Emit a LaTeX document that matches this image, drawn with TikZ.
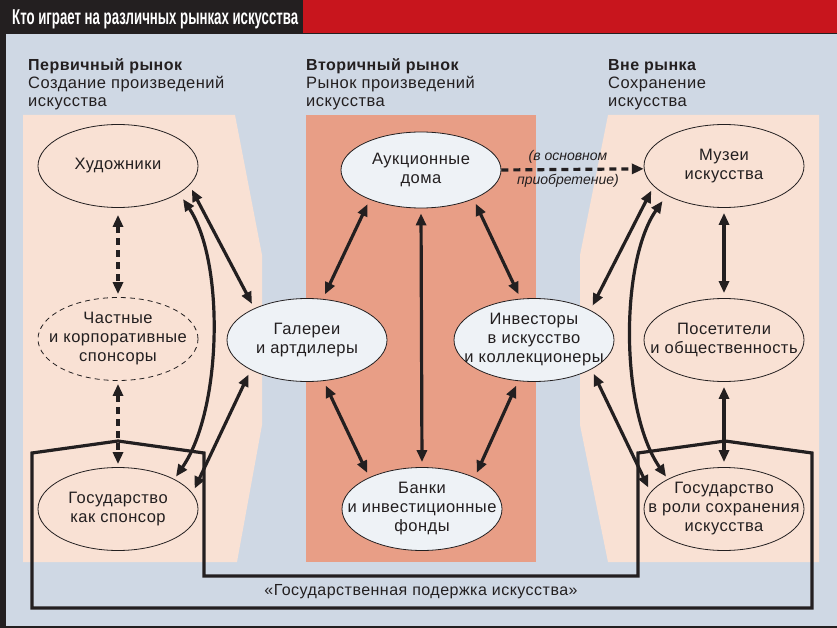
\documentclass[tikz,border=0pt]{standalone}
\usepackage{fontspec}
\setmainfont[LetterSpace=3]{Liberation Sans}
\newfontfamily\condfont[FakeStretch=0.615]{Liberation Sans}
\newfontfamily\headbold[LetterSpace=3]{Liberation Sans Bold}
\newfontfamily\notefont{Liberation Sans}
\usetikzlibrary{arrows.meta,shapes.geometric}
\definecolor{bgc}{RGB}{207,216,228}
\definecolor{peach}{RGB}{249,225,212}
\definecolor{salmon}{RGB}{232,158,134}
\definecolor{lightell}{RGB}{238,242,246}
\definecolor{darkc}{RGB}{35,31,32}
\definecolor{redbar}{RGB}{200,21,29}
\tikzset{
  etext/.style={align=center, text=darkc, inner sep=0pt, font=\fontsize{16.5}{19}\selectfont},
  ell/.style={ellipse, draw=darkc, line width=0.8pt, minimum width=160pt, minimum height=83pt,
    inner sep=0pt, label={[etext]center:#1}},
  lightfill/.style={fill=lightell},
  tipa/.tip={Triangle[length=12pt,width=10pt]},
  arr/.style={line width=3.2pt, draw=darkc, tipa-tipa, shorten <=5pt, shorten >=5pt},
  dasharr/.style={arr, dash pattern=on 7pt off 5pt},
  hbold/.style={anchor=base west, inner sep=0pt, text=darkc, font=\headbold\fontsize{16}{18}\selectfont},
  hreg/.style={anchor=base west, inner sep=0pt, text=darkc, font=\fontsize{16.5}{18}\selectfont},
  note/.style={inner sep=0pt, text=darkc, font=\notefont\itshape\fontsize{14}{16}\selectfont},
  govline/.style={line width=3.2pt, draw=darkc, line join=miter}
}
\begin{document}
\begin{tikzpicture}[x=1pt,y=-1pt]
\useasboundingbox (0,0) rectangle (837,628);
% frame and background
\fill[darkc] (0,0) rectangle (837,628);
\fill[bgc] (6,34) rectangle (837,625.5);
\fill[redbar] (303,0) rectangle (837,33);
\node[anchor=base west, inner sep=0pt, text=white, font=\condfont\bfseries\fontsize{21.5}{24}\selectfont] (title) at (12,24.5) {Кто играет на различных рынках искусства};
% panels
\fill[peach] (23,115) -- (235,115) -- (262,255) -- (262,425) -- (237,562) -- (23,562) -- cycle;
\fill[salmon] (306,115) rectangle (536,562);
\fill[peach] (608,115) -- (819,115) -- (819,562) -- (608,562) -- (580,425) -- (580,255) -- cycle;
% headers
\node[hbold] (h1a) at (28,71) {Первичный рынок};
\node[hreg] (h1b) at (28,89) {Создание произведений};
\node[hreg] (h1c) at (28,107) {искусства};
\node[hbold] (h2a) at (306,71) {Вторичный рынок};
\node[hreg] (h2b) at (306,89) {Рынок произведений};
\node[hreg] (h2c) at (306,107) {искусства};
\node[hbold] (h3a) at (608,71) {Вне рынка};
\node[hreg] (h3b) at (608,89) {Сохранение};
\node[hreg] (h3c) at (608,107) {искусства};
% state support outline
\draw[govline] (32,453) -- (118,441) -- (204,453) -- (204,576) -- (638,576) -- (638,453)
  -- (725,441) -- (812,453) -- (812,608) -- (32,608) -- cycle;
\node[text=darkc, font=\fontsize{16}{19}\selectfont, inner sep=0pt] (gsp) at (421,592) {«Государственная подержка искусства»};
% ellipses
\node[ell={Художники}] (hud) at (118,166) {};
\node[ell={Частные\\и корпоративные\\спонсоры}, dashed, dash pattern=on 5pt off 4pt] (chast) at (118,339) {};
\node[ell={Государство\\как спонсор}] (gos1) at (118,509) {};
\node[ell={Галереи\\и артдилеры}, lightfill] (gal) at (307,340) {};
\node[ell={Аукционные\\дома}, lightfill, minimum height=76pt] (auk) at (421,170) {};
\node[ell={Инвесторы\\в искусство\\и коллекционеры}, lightfill] (inv) at (534,340) {};
\node[ell={Банки\\и инвестиционные\\фонды}, lightfill] (bank) at (422,509) {};
\node[ell={Музеи\\искусства}] (muz) at (724,166) {};
\node[ell={Посетители\\и общественность}] (pos) at (724,340) {};
\node[ell={Государство\\в роли сохранения\\искусства}] (gos2) at (724,509) {};
% arrows
\draw[dasharr, shorten <=7pt, shorten >=3pt] (hud.south) -- (chast.north);
\draw[dasharr, shorten <=3pt, shorten >=3pt] (chast.south) -- (gos1.north);
\draw[arr] (hud.-15.3) -- (gal.149.7);
\draw[arr, shorten <=7pt, shorten >=3pt] (hud.-24) .. controls (225,262) and (222,410) .. (gos1.28);
\draw[arr] (gal.-152.7) -- (gos1.12.1);
\draw[arr] (auk.-150) -- (gal.69);
\draw[arr] (auk.-29.2) -- (inv.108.8);
\draw[arr] (auk.south) -- (bank.north);
\draw[arr] (gal.-68.2) -- (bank.149.9);
\draw[arr] (inv.-111.8) -- (bank.31);
\draw[arr] (inv.28.7) -- (muz.-164.1);
\draw[arr, shorten <=7pt, shorten >=3pt] (muz.-153) .. controls (620,262) and (620,410) .. (gos2.152);
\draw[arr] (inv.-27.3) -- (gos2.167.4);
\draw[arr] (muz.south) -- (pos.north);
\draw[arr] (pos.south) -- (gos2.north);
% auction -> museums
\draw[line width=3.2pt, draw=darkc, dash pattern=on 7pt off 5pt, -tipa] (auk.east) -- (muz.182);
\node[note] (n1) at (568,157) {(в основном};
\node[note] (n2) at (568,181) {приобретение)};
\end{tikzpicture}
\end{document}
